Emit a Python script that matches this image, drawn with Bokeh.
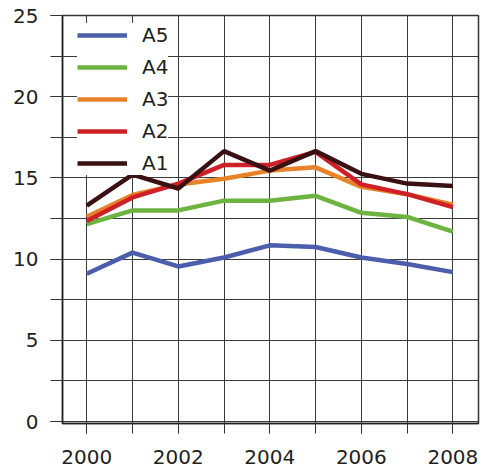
from bokeh.plotting import figure
from bokeh.models import Range1d, SingleIntervalTicker, Legend, LegendItem
from bokeh.embed import file_html
from bokeh.resources import INLINE

years = [2000, 2001, 2002, 2003, 2004, 2005, 2006, 2007, 2008]
a5 = [9.1, 10.4, 9.55, 10.1, 10.85, 10.75, 10.1, 9.7, 9.2]
a4 = [12.15, 13.0, 13.0, 13.6, 13.6, 13.9, 12.85, 12.6, 11.7]
a3 = [12.6, 13.95, 14.6, 14.95, 15.45, 15.65, 14.45, 14.0, 13.35]
a2 = [12.35, 13.8, 14.65, 15.8, 15.8, 16.6, 14.6, 14.0, 13.2]
a1 = [13.3, 15.2, 14.35, 16.65, 15.45, 16.65, 15.25, 14.65, 14.5]

series = [("A5", a5, "#4b5eab"), ("A4", a4, "#6db33f"), ("A3", a3, "#e8822a"),
          ("A2", a2, "#cf2027"), ("A1", a1, "#3a1012")]

FONT = "DejaVu Sans"
TXT = "#231f20"
GRID = "#3a3a3a"

p = figure(width=486, height=470, output_backend="svg", toolbar_location=None,
           x_range=Range1d(1999.47, 2008.56), y_range=Range1d(-0.12, 25))
p.min_border_left = 62
p.min_border_right = 8
p.min_border_top = 15
p.min_border_bottom = 47
p.outline_line_color = "#333333"
p.outline_line_width = 1.5

p.xaxis.ticker = SingleIntervalTicker(interval=2, num_minor_ticks=2)
p.yaxis.ticker = SingleIntervalTicker(interval=5, num_minor_ticks=2)

for ax in (p.xaxis, p.yaxis):
    ax.major_label_text_font = FONT
    ax.major_label_text_font_size = "20px"
    ax.major_label_text_color = TXT
    ax.axis_line_color = "#222222"
    ax.axis_line_width = 1.5
    ax.major_tick_line_color = "#333333"
    ax.minor_tick_line_color = "#333333"
    ax.major_tick_in = 0
    ax.minor_tick_in = 0
p.yaxis.major_tick_out = 12
p.yaxis.minor_tick_out = 12
p.yaxis.major_label_standoff = 12
p.xaxis.major_tick_out = 10
p.xaxis.minor_tick_out = 10
p.xaxis.major_label_standoff = 16

for g in (p.xgrid, p.ygrid):
    g.grid_line_color = GRID
    g.grid_line_width = 1
    g.minor_grid_line_color = GRID
    g.minor_grid_line_width = 1

items = []
for name, vals, col in series:
    r = p.line(years, vals, line_color=col, line_width=4.5)
    items.append(LegendItem(label=name, renderers=[r]))

legend = Legend(items=items, location=(15, 248), margin=0, padding=8,
                glyph_width=50, glyph_height=24, label_height=24, spacing=8,
                label_standoff=15, label_text_font=FONT, label_text_font_size="20px",
                label_text_color=TXT, border_line_color=None,
                background_fill_color="white", background_fill_alpha=1.0)
p.add_layout(legend, "center")

open("out.html", "w").write(file_html(p, INLINE))
